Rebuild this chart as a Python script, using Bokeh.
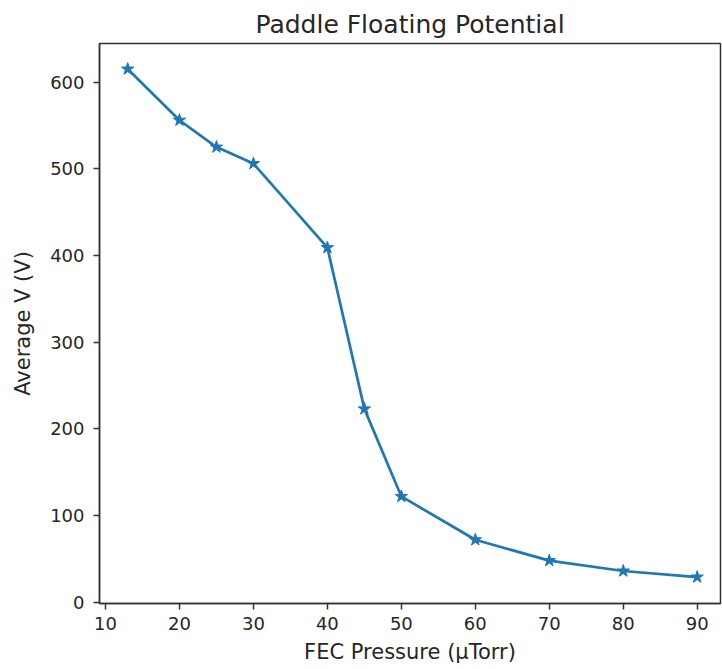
from bokeh.plotting import figure
from bokeh.models import Range1d, FixedTicker
from bokeh.embed import file_html
from bokeh.resources import INLINE

pressure = [13, 20, 25, 30, 40, 45, 50, 60, 70, 80, 90]
voltage = [615, 556, 525, 506, 409, 223, 122, 72, 48, 36, 29]
x_ticks = [10, 20, 30, 40, 50, 60, 70, 80, 90]
y_ticks = [0, 100, 200, 300, 400, 500, 600]

FONT = "DejaVu Sans"
TXT = "#262626"
BLUE = "#1f77b4"

p = figure(width=722, height=669, output_backend="svg", toolbar_location=None,
           x_range=Range1d(9.19, 93.15), y_range=Range1d(-1.5, 644.5),
           title="Paddle Floating Potential",
           min_border_left=99, min_border_right=2, min_border_top=43, min_border_bottom=66)

p.line(pressure, voltage, line_color=BLUE, line_width=2.7)
p.scatter(pressure, voltage, marker="star", size=13, fill_color=BLUE, line_color=BLUE)

p.title.text_font = FONT
p.title.text_font_size = "25px"
p.title.text_font_style = "normal"
p.title.text_color = TXT
p.title.align = "center"

p.xgrid.visible = False
p.ygrid.visible = False
p.outline_line_color = "#333333"
p.outline_line_width = 1.5
p.background_fill_color = "white"
p.border_fill_color = "white"

p.xaxis.axis_label = "FEC Pressure (µTorr)"
p.yaxis.axis_label = "Average V (V)"
p.xaxis.ticker = FixedTicker(ticks=x_ticks)
p.yaxis.ticker = FixedTicker(ticks=y_ticks)

for ax in (p.xaxis, p.yaxis):
    ax.axis_label_text_font = FONT
    ax.axis_label_text_font_size = "21px"
    ax.axis_label_text_font_style = "normal"
    ax.axis_label_text_color = TXT
    ax.major_label_text_font = FONT
    ax.major_label_text_font_size = "18px"
    ax.major_label_text_color = TXT
    ax.axis_line_color = "#333333"
    ax.axis_line_width = 1.5
    ax.major_tick_line_color = "#333333"
    ax.major_tick_line_width = 1.5
    ax.major_tick_in = 0
    ax.major_tick_out = 6
    ax.minor_tick_line_color = None

p.xaxis.major_label_standoff = 7
p.xaxis.axis_label_standoff = 7
p.yaxis.major_label_standoff = 9
p.yaxis.axis_label_standoff = 12

open("out.html", "w").write(file_html(p, INLINE))
